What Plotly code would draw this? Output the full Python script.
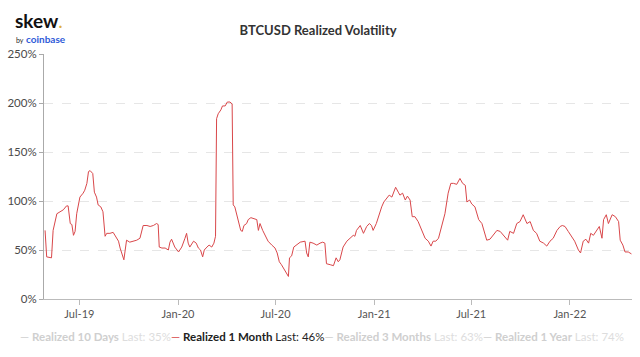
import pandas as pd
import plotly.graph_objects as go

# ---- data ----
start_date = "2019-04-26"
day_offsets = [2, 5, 14, 17, 24, 30, 36, 42, 45, 49, 52, 55, 58, 61, 67, 73, 76, 80, 83, 86,
               91, 94, 98, 101, 106, 110, 114, 117, 123, 129, 132, 139, 142, 145, 149, 151, 154,
               160, 167, 173, 179, 182, 185, 192, 198, 204, 210, 213, 215, 220, 226, 232, 235,
               238, 244, 251, 257, 263, 266, 269, 272, 279, 284, 288, 292, 296, 299, 304, 308,
               313, 317, 320, 322, 325, 330, 333, 338, 342, 347, 351, 353, 356, 360, 364, 367,
               370, 373, 378, 381, 386, 391, 397, 400, 403, 408, 412, 418, 425, 431, 435, 439,
               443, 450, 456, 458, 462, 466, 471, 478, 487, 490, 493, 496, 502, 509, 515, 520,
               524, 527, 534, 540, 545, 549, 552, 558, 565, 571, 577, 580, 583, 590, 596, 602,
               607, 611, 614, 620, 625, 630, 634, 639, 644, 649, 652, 656, 661, 664, 669, 674,
               678, 683, 687, 692, 698, 705, 711, 717, 722, 726, 731, 736, 742, 748, 754, 759,
               764, 770, 776, 781, 786, 789, 794, 798, 804, 811, 817, 821, 826, 832, 838, 845,
               851, 857, 865, 869, 876, 882, 888, 894, 901, 907, 913, 919, 925, 932, 938, 944,
               950, 957, 963, 967, 972, 978, 984, 990, 997, 1001, 1006, 1011, 1016, 1020, 1025,
               1031, 1036, 1041, 1044, 1049, 1053, 1060, 1066, 1072, 1075, 1080, 1084, 1090, 1096]
vol_1m = [70, 43, 42, 70, 87, 89, 91, 95, 95, 77, 76, 65, 69, 87, 104, 108, 111, 118, 130, 131,
          128, 109, 104, 96, 94, 89, 64, 67, 67, 68, 65, 59, 52, 47, 40, 48, 60,
          58, 59, 60, 62, 69, 75, 75, 74, 75, 77, 76, 53, 52, 52, 50, 58,
          61, 53, 48, 53, 62, 67, 57, 53, 59, 57, 52, 50, 43, 50, 53, 55,
          53, 57, 64, 184, 189, 193, 197, 197, 201, 201, 199, 96, 94, 84, 77, 70,
          69, 75, 77, 81, 83, 82, 81, 70, 77, 70, 65, 59, 55, 52, 47, 38,
          35, 28, 23, 42, 44, 53, 55, 58, 59, 47, 43, 58, 57, 55, 57, 58,
          57, 36, 35, 34, 42, 38, 40, 53, 59, 62, 65, 64, 70, 75, 67, 74,
          77, 75, 70, 77, 86, 94, 99, 103, 106, 104, 108, 114, 109, 106, 108, 101,
          105, 101, 84, 84, 79, 70, 62, 59, 54, 59, 59, 62, 74, 87, 108, 118,
          118, 117, 123, 118, 116, 99, 101, 97, 94, 81, 77, 69, 60, 61, 65, 70,
          69, 65, 60, 69, 67, 77, 79, 86, 77, 79, 70, 67, 59, 57, 54, 59,
          62, 70, 74, 75, 74, 69, 64, 59, 50, 47, 59, 61, 57, 67, 65,
          70, 74, 62, 81, 86, 77, 86, 84, 79, 60, 55, 48, 48, 46]

tick_dates = ["2019-07-01", "2020-01-01", "2020-07-01", "2021-01-01", "2021-07-01", "2022-01-01"]
tick_labels = ["Jul-19", "Jan-20", "Jul-20", "Jan-21", "Jul-21", "Jan-22"]
y_ticks = [0, 50, 100, 150, 200, 250]
y_tick_labels = ["0%", "50%", "100%", "150%", "200%", "250%"]

legend_names = ["Realized 10 Days", "Realized 1 Month", "Realized 3 Months", "Realized 1 Year"]
legend_last = [35, 46, 63, 74]
active_series = 1

dates = pd.Timestamp(start_date) + pd.to_timedelta(day_offsets, unit="D")

fig = go.Figure()
fig.add_trace(go.Scatter(x=dates, y=vol_1m, mode="lines",
                         line=dict(color="#d9474a", width=1), showlegend=False,
                         hoverinfo="skip"))

# legend as rich text
parts = []
for i, (n, v) in enumerate(zip(legend_names, legend_last)):
    if i == active_series:
        parts.append(f"<span style='color:#d9474a'>—</span> <b><span style='color:#222'>{n}</span></b>"
                     f"<span style='color:#222'> Last: {v}%</span>")
    else:
        parts.append(f"<span style='color:#d0d0d0'>—</span> <b><span style='color:#cfcfcf'>{n}</span></b>"
                     f"<span style='color:#dddddd'> Last: {v}%</span>")
legend_text = "".join(parts)

fig.update_layout(
    width=640, height=357,
    margin=dict(l=44, r=8, t=54, b=58),
    paper_bgcolor="white", plot_bgcolor="white",
    font=dict(family="Lato", size=11, color="#555"),
    title=dict(text="BTCUSD Realized Volatility", x=0.497, xanchor="center", y=0.915, yanchor="middle",
               font=dict(family="Lato", size=13, color="#333", weight="bold")),
    xaxis=dict(range=["2019-04-26", "2022-04-27"], tickvals=tick_dates, ticktext=tick_labels,
               showgrid=False, showline=True, linecolor="#bbbbbb", linewidth=1,
               ticks="outside", ticklen=5, tickcolor="#bbbbbb", zeroline=False,
               tickfont=dict(family="Lato", size=11, color="#555")),
    yaxis=dict(range=[0, 250], tickvals=y_ticks, ticktext=y_tick_labels,
               showgrid=True, gridcolor="#e6e6e6", griddash="dash", gridwidth=1,
               showline=True, linecolor="#aaaaaa", linewidth=1,
               ticks="outside", ticklen=4, tickcolor="#aaaaaa", zeroline=False,
               tickfont=dict(family="Lato", size=11.5, color="#4a4a4a")),
    annotations=[
        dict(text=legend_text, xref="paper", yref="paper", x=0.472, y=-0.155,
             xanchor="center", yanchor="middle", showarrow=False,
             font=dict(family="Lato", size=11.5)),
        dict(text="<b>skew</b><span style='color:#e0b040'>.</span>", xref="paper", yref="paper",
             x=-0.052, y=1.135, xanchor="left", yanchor="middle", showarrow=False,
             font=dict(family="Lato", size=19, color="#111")),
        dict(text="<span style='font-size:7px;color:#222'>by</span> <b>coinbase</b>", xref="paper",
             yref="paper", x=-0.051, y=1.062, xanchor="left", yanchor="middle", showarrow=False,
             font=dict(family="Lato", size=10, color="#2f5bd8")),
    ],
)

fig.write_html("out.html", config={"displayModeBar": False},
               post_script="document.body.style.margin='0';")
